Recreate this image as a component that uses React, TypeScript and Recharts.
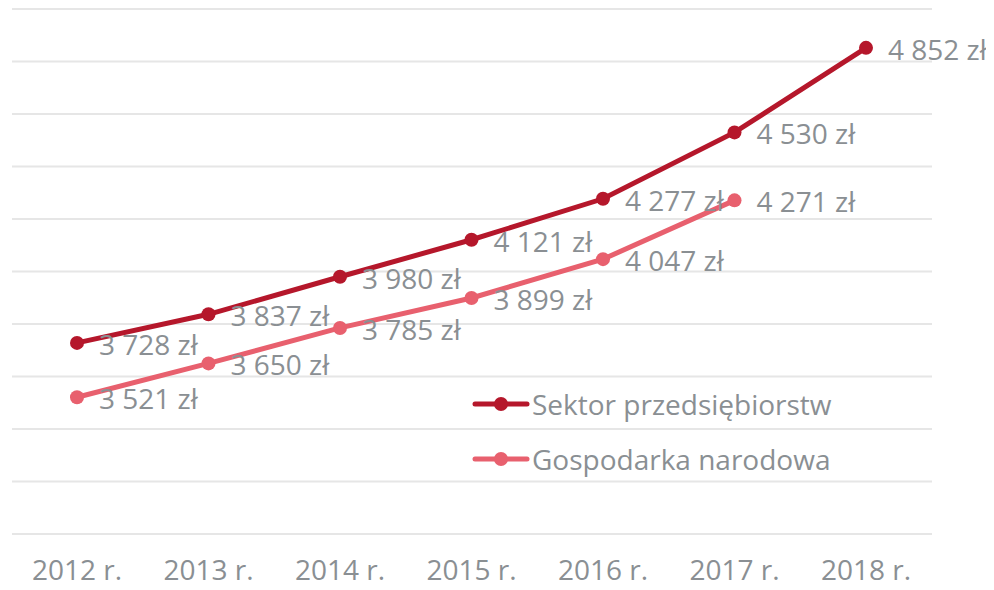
import { LineChart, Line, XAxis, YAxis, CartesianGrid, LabelList } from 'recharts'

const years = ['2012 r.', '2013 r.', '2014 r.', '2015 r.', '2016 r.', '2017 r.', '2018 r.']
const sektor = [3728, 3837, 3980, 4121, 4277, 4530, 4852]
const gospodarka: (number | null)[] = [3521, 3650, 3785, 3899, 4047, 4271, null]
const yTicks = [3000, 3200, 3400, 3600, 3800, 4000, 4200, 4400, 4600, 4800, 5000]

const data = years.map((year, i) => ({ year, sektor: sektor[i], gospodarka: gospodarka[i] }))

const DARK = '#b5172b'
const PINK = '#e8606e'
const TEXT = '#8a8f93'
const GRID = '#e6e6e6'
const FONT = '"Open Sans", sans-serif'

const fmt = (v: number) => `${String(v).replace(/\B(?=(\d{3})+(?!\d))/g, ' ')} zł`

const PointLabel = (props: any) => {
  const { x, y, value } = props
  if (value == null) return null
  return (
    <text x={x + 22} y={y + 12} fill={TEXT} fontSize={28} fontFamily={FONT}>
      {fmt(value)}
    </text>
  )
}

const legendItems = [
  { name: 'Sektor przedsiębiorstw', color: DARK },
  { name: 'Gospodarka narodowa', color: PINK },
]

export default function App() {
  return (
    <div style={{ position: 'relative', width: 986, height: 582 }}>
      <LineChart width={986} height={582} data={data} margin={{ top: 1, right: 62, left: 4, bottom: 0 }}>
        <CartesianGrid vertical={false} stroke={GRID} strokeWidth={2} />
        <XAxis
          dataKey="year"
          height={56}
          padding={{ left: 65, right: 66 }}
          axisLine={{ stroke: GRID, strokeWidth: 2 }}
          tickLine={false}
          tick={{ fill: TEXT, fontSize: 28, fontFamily: FONT }}
          tickMargin={20}
        />
        <YAxis hide domain={[3000, 5000]} ticks={yTicks} />
        <Line
          type="linear"
          dataKey="sektor"
          name="Sektor przedsiębiorstw"
          stroke={DARK}
          strokeWidth={5}
          dot={{ r: 7, fill: DARK, stroke: DARK, strokeWidth: 0 }}
          isAnimationActive={false}
        >
          <LabelList dataKey="sektor" content={<PointLabel />} />
        </Line>
        <Line
          type="linear"
          dataKey="gospodarka"
          name="Gospodarka narodowa"
          stroke={PINK}
          strokeWidth={5}
          dot={{ r: 7, fill: PINK, stroke: PINK, strokeWidth: 0 }}
          isAnimationActive={false}
        >
          <LabelList dataKey="gospodarka" content={<PointLabel />} />
        </Line>
      </LineChart>
      <div style={{ position: 'absolute', left: 464, top: 368, fontFamily: FONT }}>
        {legendItems.map((it) => (
          <div key={it.name} style={{ display: 'flex', alignItems: 'center', height: 55 }}>
            <svg width={58} height={20}>
              <line x1={3} y1={10} x2={55} y2={10} stroke={it.color} strokeWidth={5} strokeLinecap="round" />
              <circle cx={29} cy={10} r={7} fill={it.color} />
            </svg>
            <span style={{ color: TEXT, fontSize: 28, marginLeft: 2 }}>{it.name}</span>
          </div>
        ))}
      </div>
    </div>
  )
}
